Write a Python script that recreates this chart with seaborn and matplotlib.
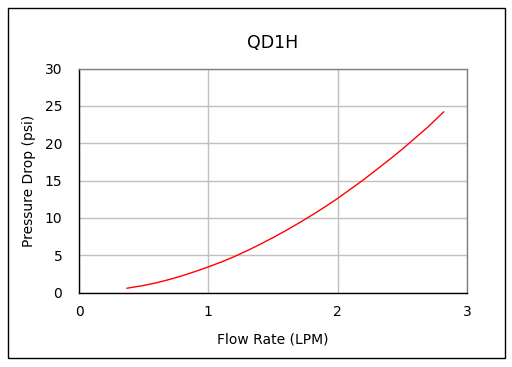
import matplotlib
matplotlib.use("Agg")
import matplotlib.pyplot as plt
import seaborn as sns
import pandas as pd
from matplotlib.patches import Rectangle

title = "QD1H"
x_label = "Flow Rate (LPM)"
y_label = "Pressure Drop (psi)"
flow = [0.37, 0.5, 0.6, 0.7, 0.8, 0.9, 1.0, 1.1, 1.2, 1.3, 1.4, 1.5, 1.6, 1.7,
        1.8, 1.9, 2.0, 2.1, 2.2, 2.3, 2.4, 2.5, 2.6, 2.7, 2.76, 2.82]
pressure = [0.57, 0.94, 1.31, 1.75, 2.25, 2.82, 3.43, 4.08, 4.8, 5.6, 6.45, 7.35, 8.3, 9.3,
            10.35, 11.45, 12.6, 13.85, 15.1, 16.45, 17.8, 19.2, 20.7, 22.2, 23.2, 24.2]
x_ticks = [0, 1, 2, 3]
y_ticks = [0, 5, 10, 15, 20, 25, 30]

sns.set_theme(style="white")
plt.rcParams['font.family'] = ['DejaVu Sans']

df = pd.DataFrame({"flow": flow, "pressure": pressure})

W, H = 512, 367
fig = plt.figure(figsize=(W / 100, H / 100), dpi=100)
fig.patch.set_facecolor("white")
ax = fig.add_axes([79 / W, 1 - 292.5 / H, (467 - 79) / W, (292.5 - 68.5) / H])

sns.lineplot(data=df, x="flow", y="pressure", ax=ax, color="#ff0000", linewidth=1.0)

ax.set_xlim(0, 3)
ax.set_ylim(0, 30)
ax.set_xticks(x_ticks)
ax.set_yticks(y_ticks)
ax.grid(True, color="#c0c0c0", linewidth=1.0)
ax.set_axisbelow(True)
for side in ["left", "bottom"]:
    ax.spines[side].set_color("black")
    ax.spines[side].set_linewidth(1.0)
for side in ["top", "right"]:
    ax.spines[side].set_color("#808080")
    ax.spines[side].set_linewidth(1.0)
    ax.spines[side].set_visible(True)

ax.tick_params(axis="both", direction="in", length=3, width=1, color="black",
               labelsize=10, labelcolor="black")
ax.tick_params(axis="y", pad=12)
ax.tick_params(axis="x", pad=9)

ax.set_xlabel(x_label, fontsize=10, color="black", labelpad=10)
ax.set_ylabel(y_label, fontsize=10, color="black", labelpad=6)
ax.set_title(title, fontsize=12.5, color="black", pad=15)

fig.add_artist(Rectangle((7.5 / W, 1 - 357.5 / H), 497 / W, 349.5 / H,
                         transform=fig.transFigure, fill=False,
                         edgecolor="black", linewidth=1.0))

fig.savefig("out.png", dpi=100)
